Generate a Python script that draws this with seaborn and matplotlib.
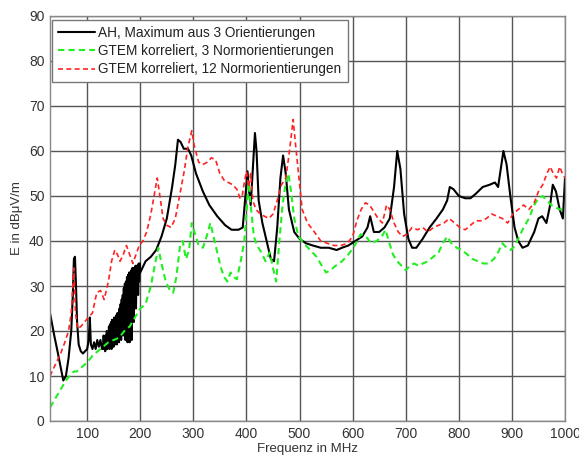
import numpy as np
import pandas as pd
import matplotlib
matplotlib.use("Agg")
import matplotlib.pyplot as plt
import seaborn as sns

# --- data ---
ah_f_low = [30, 38, 45, 50, 55, 60, 65, 70, 73, 75, 77, 79, 81, 84, 88, 92, 96, 100, 103, 105, 107,
            110, 113, 116, 119, 122, 125, 128]
ah_v_low = [24, 19, 15, 12, 9, 10, 14, 20, 28, 36, 36.5, 30, 22, 17, 15.5, 15, 15.5, 16, 18, 23, 17,
            16, 17.5, 16, 18, 16.5, 18, 16]
# dense oscillating part, 130..200 MHz in 1 MHz steps
ah_f_mid = list(range(130, 201))
ah_v_mid = [16, 19, 16, 18.5, 15.5, 19, 16, 20, 16, 19.5, 16.5, 21, 16, 21.5, 17, 22, 16, 22.5, 17, 22,
            16.5, 23, 17, 22.5, 18, 23.5, 17, 24, 18, 23.5, 17.5, 25, 19, 26, 18, 27, 20, 28, 19, 29.5,
            21, 30.5, 18, 31, 22, 32, 17.5, 32.5, 23, 33, 17.5, 33, 24, 33.5, 18, 34, 26, 34, 22, 34,
            27, 34.5, 25, 34.5, 29, 34.5, 28, 35, 31, 35, 33]
ah_f_high = [210, 220, 230, 240, 250, 260, 266, 271, 276, 282, 290, 296, 305, 318, 330, 345, 360, 372,
             385, 393, 398, 402, 405, 408, 412, 416, 419, 423, 430, 438, 446, 452, 458, 464, 469, 474,
             480, 490, 500, 512, 525, 540, 555, 570, 580, 592, 605, 618, 628, 633, 640, 650, 660, 670,
             678, 684, 690, 697, 705, 712, 720, 732, 745, 758, 770, 778, 783, 790, 800, 812, 822, 832,
             845, 858, 868, 874, 879, 884, 890, 897, 905, 912, 920, 930, 942, 950, 957, 965, 972, 977,
             983, 990, 996, 1000]
ah_v_high = [35.5, 36.5, 38, 41, 45, 52, 57, 62.5, 62, 60.5, 60.5, 59, 55, 51, 48, 45.5, 43.5, 42.5,
             42.5, 43, 50, 55.5, 51, 48, 56, 64, 60, 49, 44, 40, 36, 35.5, 43, 54, 59, 55,
             47, 42, 40.5, 39.5, 39, 38.5, 38.5, 38, 38.5, 39, 40, 41, 43, 45.5, 42, 42, 43, 45,
             52, 60, 56, 46, 40.5, 38.5, 38.5, 40.5, 43, 45, 47, 49, 52, 51.5, 50, 49.5, 49.5, 50.5,
             52, 52.5, 53, 52, 56, 60, 57, 50, 43, 40, 38.5, 39, 42, 45, 45.5, 44, 48, 52.5,
             51, 47, 45, 54]
ah_f = ah_f_low + ah_f_mid + ah_f_high
ah_v = ah_v_low + ah_v_mid + ah_v_high

g3_f = [30, 40, 50, 60, 70, 75, 80, 90, 100, 110, 120, 130, 140, 150, 160, 170, 180, 190, 200, 210,
        220, 228, 234, 240, 248, 256, 262, 268, 275, 280, 286, 292, 297, 302, 310, 318, 325, 332,
        338, 346, 352, 358, 364, 370, 376, 382, 390, 396, 400, 404, 408, 414, 420, 428, 436, 444,
        450, 456, 462, 468, 474, 479, 484, 490, 498, 508, 520, 532, 542, 550, 558, 568, 580, 592,
        604, 615, 625, 635, 645, 655, 662, 668, 676, 684, 692, 700, 708, 716, 724, 732, 742, 752,
        762, 770, 778, 786, 796, 806, 816, 826, 836, 846, 856, 866, 874, 882, 890, 898, 906, 914,
        922, 932, 942, 950, 958, 966, 974, 982, 990, 1000]
g3_v = [3, 5, 7, 9, 10.5, 11, 11, 12, 13, 14.5, 15.5, 16.5, 17.5, 18, 18.5, 20, 21, 23, 25, 26,
        30, 35, 38.5, 35, 31, 29, 28.5, 32, 39, 40, 36, 38, 44, 42, 39, 38.5, 41, 44,
        41, 37, 34, 32, 31, 33, 32, 31.5, 36, 40, 46, 53, 48, 41, 39, 37.5, 35.5, 37.5,
        34, 31, 40, 48, 53, 55, 51, 45, 41, 39.5, 38, 36.5, 34.5, 33, 33.5, 34.5, 35.5, 37,
        39, 41.5, 41, 39.5, 40, 41, 42.5, 40, 37, 35.5, 34.5, 33.5, 34.5, 35, 34.5, 35, 35.5, 36.5,
        37.5, 39.5, 41, 39.5, 38.5, 38, 37, 36, 35.5, 35, 35, 36, 37.5, 39.5, 38.5, 38, 39, 41,
        43, 45, 48, 49.5, 50, 49, 48, 47.5, 47, 47]

g12_f = [30, 40, 50, 58, 65, 70, 73, 75, 78, 82, 88, 95, 102, 110, 118, 125, 132, 140, 146, 152,
         157, 162, 168, 174, 180, 186, 192, 198, 205, 212, 220, 226, 232, 237, 243, 250, 258, 266,
         274, 282, 290, 297, 302, 310, 318, 326, 334, 342, 350, 358, 366, 374, 382, 388, 392, 396,
         400, 404, 408, 412, 418, 426, 434, 442, 450, 458, 466, 474, 480, 485, 488, 492, 498, 505,
         515, 528, 540, 552, 565, 578, 590, 600, 608, 616, 624, 632, 640, 648, 656, 664, 670, 678,
         686, 694, 702, 712, 722, 732, 742, 752, 762, 772, 782, 792, 802, 812, 822, 832, 842, 852,
         862, 872, 882, 892, 902, 912, 922, 932, 942, 950, 958, 966, 972, 978, 984, 990, 995, 1000]
g12_v = [10, 12.5, 15, 17.5, 20, 24, 30, 34, 24, 20.5, 21, 22, 23, 24, 28.5, 29, 27, 31, 35.5, 38,
         37, 35.5, 37, 39, 37, 35, 37, 39, 40, 42, 46, 50, 54, 50, 45, 43.5, 43, 45,
         50, 55, 61, 64.5, 61, 57.5, 57, 57.5, 58.5, 58, 55, 53.5, 53, 52.5, 51.5, 49.5, 50, 53,
         55.5, 52, 55, 49, 47, 46, 45.5, 45, 46, 49, 52.5, 54, 59, 64, 67, 62, 55, 47,
         44, 42, 40, 39.5, 39, 39, 39.5, 41, 44.5, 47, 48.5, 48, 46.5, 45, 44, 48, 47, 44,
         42, 41, 41.5, 43, 42.5, 43, 42, 43, 43.5, 44, 45, 44, 43, 42.5, 43.5, 44.5, 44.5, 45,
         46, 45.5, 45, 44, 46, 47, 48, 47, 48.5, 51, 52.5, 55, 56.5, 55, 54, 56.5, 55, 54]

labels = ["AH, Maximum aus 3 Orientierungen",
          "GTEM korreliert, 3 Normorientierungen",
          "GTEM korreliert, 12 Normorientierungen"]
x_ticks = [100, 200, 300, 400, 500, 600, 700, 800, 900, 1000]
y_ticks = [0, 10, 20, 30, 40, 50, 60, 70, 80, 90]

sns.set_theme(style="white")
plt.rcParams['font.family'] = ['Liberation Sans', 'DejaVu Sans']

fig = plt.figure(figsize=(5.79, 4.57), dpi=100)
ax = fig.add_axes([50 / 579, 36 / 457, 515 / 579, 405 / 457])

sns.lineplot(x=ah_f, y=ah_v, ax=ax, color="black", linewidth=1.5, estimator=None,
             sort=False, label=labels[0])
sns.lineplot(x=g3_f, y=g3_v, ax=ax, color="#22ee22", linewidth=1.5, estimator=None,
             sort=False, label=labels[1], linestyle=(0, (3, 2)))
sns.lineplot(x=g12_f, y=g12_v, ax=ax, color="#ff2222", linewidth=1.2, estimator=None,
             sort=False, label=labels[2], linestyle=(0, (3, 2)))

ax.set_xlim(30, 1000)
ax.set_ylim(0, 90)
ax.set_xticks(x_ticks)
ax.set_yticks(y_ticks)
ax.tick_params(labelsize=10, colors="#333333", length=0, pad=4)
ax.grid(True, color="#555555", linewidth=1.0)
ax.set_axisbelow(True)
for s in ax.spines.values():
    s.set_color("#888888")
    s.set_linewidth(1.0)
ax.set_xlabel("Frequenz in MHz", fontsize=9.5, color="#333333", labelpad=2)
ax.set_ylabel("E in dBμV/m", fontsize=9.5, color="#333333", labelpad=4)

leg = ax.legend(loc="upper left", bbox_to_anchor=(2 / 515, 1 - 4 / 405), fontsize=9.8,
                frameon=True, fancybox=False, edgecolor="#777777", framealpha=1,
                borderpad=0.45, labelspacing=0.3, handlelength=2.7, handletextpad=0.25,
                borderaxespad=0)
leg.get_frame().set_linewidth(1.0)
for t in leg.get_texts():
    t.set_color("#222222")

fig.savefig("out.png", dpi=100)
